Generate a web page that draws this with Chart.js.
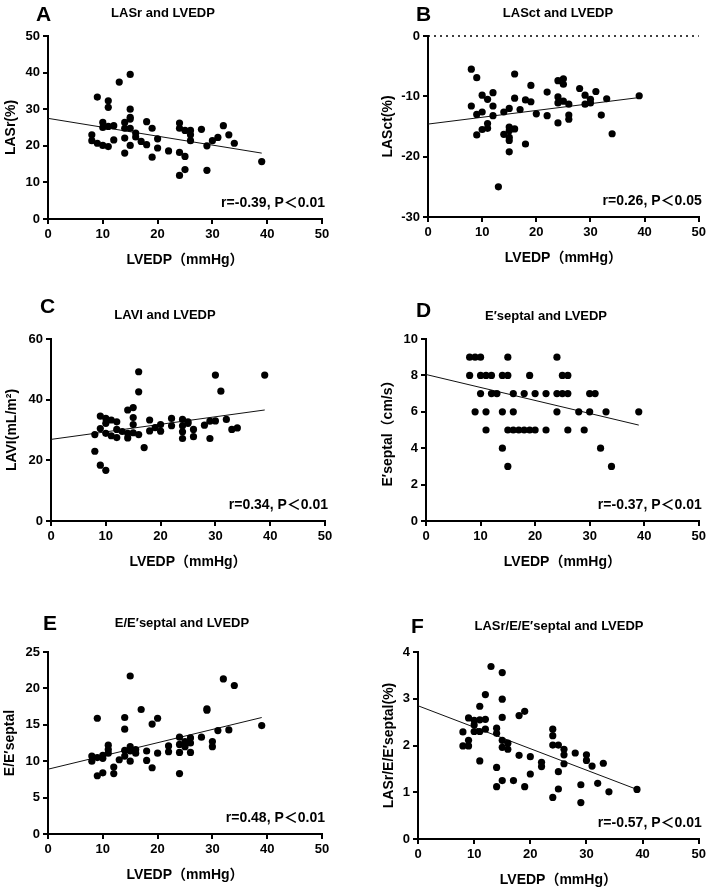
<!DOCTYPE html>
<html>
<head>
<meta charset="utf-8">
<script src="https://cdn.jsdelivr.net/npm/chart.js@4.4.1/dist/chart.umd.min.js"></script>
<style>
  body { margin: 0; background: #fff; width: 709px; height: 892px; position: relative; overflow: hidden; }
  canvas { position: absolute; }
</style>
</head>
<body>
<canvas id="cA"></canvas>
<canvas id="cB"></canvas>
<canvas id="cC"></canvas>
<canvas id="cD"></canvas>
<canvas id="cE"></canvas>
<canvas id="cF"></canvas>
<script>

// A - LASr (%)
var xA = [9, 13, 15, 11, 11, 15, 15, 15, 14, 14, 15, 10, 10, 11, 12, 8, 8, 9, 10, 11, 12, 14, 14, 15, 16, 16, 17, 18, 18, 19, 19, 20, 20, 22, 24, 24, 24, 24, 25, 25, 25, 26, 26, 26, 28, 29, 29, 30, 31, 32, 33, 34, 39];
var yA = [33.3, 37.4, 39.5, 32.3, 30.5, 30, 27.8, 27.3, 26.4, 24.8, 24.8, 26.4, 25, 25.3, 25.5, 23, 21.4, 20.7, 20.1, 19.8, 21.6, 22.1, 18, 20.1, 23.5, 22.4, 21.2, 26.6, 20.3, 24.8, 16.9, 21.9, 19.4, 18.6, 26.2, 24.8, 18.2, 11.9, 17.1, 13.5, 24.2, 24.2, 23, 21.4, 24.5, 20, 13.3, 21.4, 22.3, 25.5, 23, 20.7, 15.7];

// B - LASct (%)
var xB = [8, 8, 9, 9, 9, 10, 10, 10, 11, 11, 11, 12, 12, 12, 13, 14, 14, 15, 15, 15, 15, 15, 15, 16, 16, 16, 17, 18, 18, 19, 19, 20, 22, 22, 24, 24, 24, 24, 25, 25, 25, 26, 26, 26, 28, 29, 29, 30, 30, 31, 32, 33, 34, 39];
var yB = [-5.5, -11.6, -6.9, -13, -16.4, -9.8, -12.6, -15.5, -10.5, -14.5, -15.3, -9.4, -11.6, -13.2, -25, -12.6, -16.3, -12, -15.1, -15.7, -16.8, -17.3, -19.2, -6.3, -10.3, -15.4, -12.2, -10.6, -17.9, -8.2, -10.9, -12.9, -9.3, -13.2, -7.4, -10.1, -11.1, -14.4, -7.1, -8, -10.8, -11.3, -13.1, -13.8, -8.7, -9.8, -11.3, -10.5, -11.1, -9.2, -13.1, -10.4, -16.2, -9.9];

// C - LAVI (mL/m2)
var xC = [8, 8, 9, 9, 9, 10, 10, 10, 10, 11, 11, 12, 12, 12, 13, 14, 14, 14, 15, 15, 15, 15, 16, 16, 16, 17, 18, 18, 19, 20, 20, 22, 22, 24, 24, 24, 24, 25, 25, 26, 26, 28, 29, 29, 30, 30, 31, 32, 33, 34, 39];
var yC = [28.5, 23, 34.6, 30.5, 18.4, 33.8, 32.2, 28.9, 16.7, 33.3, 28.1, 32.7, 30.2, 27.5, 29.5, 36.6, 28.9, 27.4, 37.4, 34.1, 31.8, 29.1, 49.2, 42.6, 28.5, 24.2, 33.3, 29.7, 30.8, 31.8, 29.6, 33.8, 31.4, 33.5, 31.4, 29.4, 27.2, 32.7, 32.2, 30.2, 27.8, 31.6, 32.9, 27.2, 48.1, 33, 42.8, 33.5, 30.2, 30.7, 48.1];

// D - E'septal (cm/s)
var xD = [8, 9, 10, 15, 24, 8, 10, 11, 12, 14, 15, 19, 25, 26, 10, 12, 13, 16, 18, 20, 22, 24, 25, 26, 30, 31, 9, 11, 14, 16, 24, 28, 30, 33, 39, 11, 15, 16, 17, 18, 19, 20, 22, 26, 29, 14, 32, 15, 34];
var yD = [9, 9, 9, 9, 9, 8, 8, 8, 8, 8, 8, 8, 8, 8, 7, 7, 7, 7, 7, 7, 7, 7, 7, 7, 7, 7, 6, 6, 6, 6, 6, 6, 6, 6, 6, 5, 5, 5, 5, 5, 5, 5, 5, 5, 5, 4, 4, 3, 3];

// E - E/E'septal
var xE = [8, 8, 9, 9, 9, 10, 10, 10, 11, 11, 11, 12, 12, 13, 14, 14, 14, 14, 15, 15, 15, 15, 16, 16, 17, 18, 18, 19, 19, 20, 20, 22, 22, 24, 24, 24, 24, 25, 25, 26, 26, 26, 28, 29, 29, 30, 30, 31, 32, 33, 34, 39];
var yE = [10.7, 10, 15.9, 10.5, 8, 10.8, 10.4, 8.4, 12.2, 11.6, 11.1, 9.2, 8.3, 10.2, 16, 14.4, 11.5, 10.7, 21.7, 12, 11.4, 10, 11.6, 11.1, 17.1, 11.4, 10.1, 15.1, 9.1, 15.9, 11.1, 12.1, 11.3, 13.3, 12.3, 11.2, 8.3, 12.7, 12, 13.2, 12.5, 11.2, 13.3, 17.2, 17, 12.7, 12, 14.2, 21.3, 14.3, 20.4, 14.9];

// F - LASr/E/E'septal (%)
var xF = [8, 8, 9, 9, 9, 10, 10, 10, 11, 11, 11, 11, 12, 12, 12, 13, 14, 14, 14, 14, 15, 15, 15, 15, 15, 15, 16, 16, 17, 18, 18, 19, 19, 20, 20, 22, 22, 24, 24, 24, 24, 25, 25, 25, 26, 26, 26, 28, 29, 29, 30, 30, 31, 32, 33, 34, 39];
var yF = [2.29, 1.99, 2.59, 2.11, 1.99, 2.44, 2.3, 2.54, 2.84, 2.55, 2.3, 1.67, 3.09, 2.56, 2.35, 3.69, 2.37, 2.26, 1.53, 1.12, 3.56, 2.99, 2.6, 2.11, 1.96, 1.25, 2.05, 1.92, 1.25, 2.64, 1.79, 2.73, 1.12, 1.76, 1.39, 1.64, 1.55, 2.35, 2.21, 2.01, 0.89, 2.01, 1.44, 1.07, 1.92, 1.8, 1.61, 1.84, 1.16, 0.78, 1.8, 1.68, 1.56, 1.19, 1.62, 1.01, 1.06];

// regression lines as drawn: value at LVEDP = 0 and at LVEDP = 39
var fitX = [0, 39];
var fitA = [27.5, 18.0];
var fitB = [-14.6, -10.2];
var fitC = [26.9, 36.6];
var fitD = [8.05, 5.27];
var fitE = [8.9, 16.0];
var fitF = [2.85, 1.06];

var FONT = '"Liberation Sans", Arial, "Noto Sans CJK SC", sans-serif';

// letter, title and r/P note drawn on top of each panel
var panelText = {
  id: 'panelText',
  afterDraw: function(chart, args, o) {
    var ctx = chart.ctx, area = chart.chartArea;
    ctx.save();
    ctx.fillStyle = '#000';
    ctx.font = 'bold 21px ' + FONT;
    ctx.textAlign = 'left';
    ctx.textBaseline = 'alphabetic';
    ctx.fillText(o.letter, o.letterPos[0], o.letterPos[1]);
    ctx.font = 'bold 13px ' + FONT;
    ctx.textAlign = 'center';
    ctx.textBaseline = 'middle';
    ctx.fillText(o.title, o.titlePos[0], o.titlePos[1]);
    ctx.font = 'bold 14px ' + FONT;
    ctx.textAlign = 'right';
    ctx.fillText(o.note, area.right + 3, area.bottom - 16);
    ctx.restore();
  }
};

function pairs(xs, ys) {
  return xs.map(function(x, i) { return { x: x, y: ys[i] }; });
}

function makePanel(p) {
  var el = document.getElementById(p.id);
  var bx = p.box[0], by = p.box[1], bw = p.box[2], bh = p.box[3];
  el.width = bw; el.height = bh;
  el.style.left = bx + 'px';
  el.style.top = by + 'px';

  var half = 8.4; // half line height of the 14px axis titles
  var padLeft = p.yTitleX - bx - half;
  var yWidth = p.plot[0] - bx - padLeft;
  var xHeight = 41 + half;
  var padBottom = by + bh - p.plot[3] - xHeight;

  var datasets = [
    { data: pairs(p.xs, p.ys), backgroundColor: '#000', borderWidth: 0, pointRadius: 3.6 },
    { data: pairs(fitX, p.fit), showLine: true, pointRadius: 0, borderColor: '#111', borderWidth: 1, fill: false }
  ];
  if (p.zeroLine) {
    datasets.push({ data: [{ x: 0, y: 0 }, { x: 50, y: 0 }], showLine: true, pointRadius: 0,
      borderColor: '#000', borderWidth: 1.5, borderDash: [2, 4], clip: false });
  }

  var tickFont = { family: FONT, size: 13, weight: 'bold' };
  var titleFont = { family: FONT, size: 14, weight: 'bold' };

  new Chart(el, {
    type: 'scatter',
    data: { datasets: datasets },
    plugins: [panelText],
    options: {
      responsive: false,
      animation: false,
      layout: { padding: { left: padLeft, top: p.plot[2] - by, right: bx + bw - p.plot[1], bottom: padBottom } },
      plugins: {
        legend: { display: false },
        tooltip: { enabled: false },
        panelText: {
          letter: p.letter,
          letterPos: [p.letterPos[0] - bx, p.letterPos[1] - by],
          title: p.title,
          titlePos: [p.titlePos[0] - bx, p.titlePos[1] - by],
          note: p.note
        }
      },
      scales: {
        x: {
          type: 'linear', min: 0, max: 50,
          ticks: { stepSize: 10, color: '#000', font: tickFont, padding: 3, maxRotation: 0 },
          grid: { drawOnChartArea: false, tickLength: 5, color: '#000', lineWidth: 2 },
          border: { color: '#000', width: 2 },
          title: { display: true, text: 'LVEDP（mmHg）', color: '#000', font: titleFont, padding: 0 },
          afterFit: function(s) { s.height = xHeight; }
        },
        y: {
          type: 'linear', min: p.yMin, max: p.yMax,
          ticks: { stepSize: p.yStep, color: '#000', font: tickFont, padding: 3 },
          grid: { drawOnChartArea: false, tickLength: 5, color: '#000', lineWidth: 2 },
          border: { color: '#000', width: 2 },
          title: { display: true, text: p.yTitle, color: '#000', font: titleFont, padding: 0 },
          afterFit: function(s) { s.width = yWidth; }
        }
      }
    }
  });
}

makePanel({ id: 'cA', box: [0, 0, 354, 290], plot: [48, 322, 36, 219], yTitleX: 11,
  letter: 'A', letterPos: [36, 21], title: 'LASr and LVEDP', titlePos: [163, 13],
  yTitle: 'LASr(%)', yMin: 0, yMax: 50, yStep: 10, xs: xA, ys: yA, fit: fitA, note: 'r=-0.39, P＜0.01' });

makePanel({ id: 'cB', box: [354, 0, 355, 290], plot: [428, 699, 36, 217], yTitleX: 388,
  letter: 'B', letterPos: [416, 21], title: 'LASct and LVEDP', titlePos: [558, 13],
  yTitle: 'LASct(%)', yMin: -30, yMax: 0, yStep: 10, xs: xB, ys: yB, fit: fitB, note: 'r=0.26, P＜0.05', zeroLine: true });

makePanel({ id: 'cC', box: [0, 290, 354, 300], plot: [51, 325, 339, 521], yTitleX: 12,
  letter: 'C', letterPos: [40, 313], title: 'LAVI and LVEDP', titlePos: [165, 315],
  yTitle: 'LAVI(mL/m²)', yMin: 0, yMax: 60, yStep: 20, xs: xC, ys: yC, fit: fitC, note: 'r=0.34, P＜0.01' });

makePanel({ id: 'cD', box: [354, 290, 355, 300], plot: [426, 699, 339, 521], yTitleX: 388,
  letter: 'D', letterPos: [416, 317], title: 'E′septal and LVEDP', titlePos: [546, 316],
  yTitle: 'E′septal（cm/s）', yMin: 0, yMax: 10, yStep: 2, xs: xD, ys: yD, fit: fitD, note: 'r=-0.37, P＜0.01' });

makePanel({ id: 'cE', box: [0, 590, 354, 302], plot: [48, 322, 652, 834], yTitleX: 10,
  letter: 'E', letterPos: [43, 630], title: 'E/E′septal and LVEDP', titlePos: [182, 623],
  yTitle: 'E/E′septal', yMin: 0, yMax: 25, yStep: 5, xs: xE, ys: yE, fit: fitE, note: 'r=0.48, P＜0.01' });

makePanel({ id: 'cF', box: [354, 590, 355, 302], plot: [418, 699, 652, 839], yTitleX: 389,
  letter: 'F', letterPos: [411, 633], title: 'LASr/E/E′septal and LVEDP', titlePos: [559, 626],
  yTitle: 'LASr/E/E′septal(%)', yMin: 0, yMax: 4, yStep: 1, xs: xF, ys: yF, fit: fitF, note: 'r=-0.57, P＜0.01' });
</script>
</body>
</html>
